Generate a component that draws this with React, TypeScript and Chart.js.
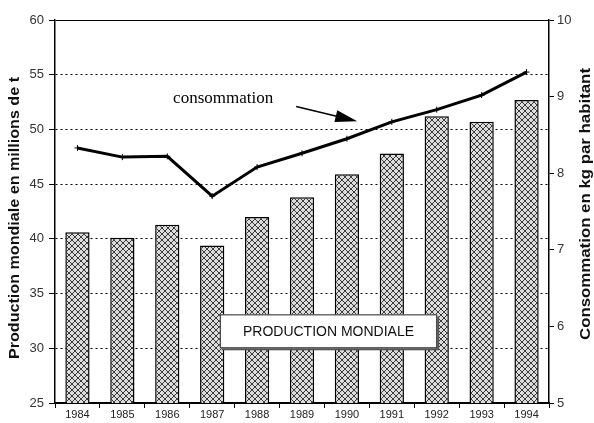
import React, { useEffect, useRef } from "react";
import { Chart, registerables } from "chart.js";

Chart.register(...registerables);

const years = ["1984", "1985", "1986", "1987", "1988", "1989", "1990", "1991", "1992", "1993", "1994"];
const production = [40.6, 40.1, 41.3, 39.4, 42.0, 43.8, 45.9, 47.8, 51.2, 50.7, 52.7];
const consommation = [8.33, 8.21, 8.22, 7.7, 8.08, 8.26, 8.45, 8.67, 8.83, 9.02, 9.32];
const leftTitle = "Production mondiale en millions de t";
const rightTitle = "Consommation en kg par habitant";
const lineLabel = "consommation";
const barLabel = "PRODUCTION MONDIALE";

function makePattern(): CanvasPattern | string {
  const c = document.createElement("canvas");
  c.width = 6;
  c.height = 6;
  const g = c.getContext("2d");
  if (!g) return "#ccc";
  g.fillStyle = "#dcdcdc";
  g.fillRect(0, 0, 6, 6);
  g.strokeStyle = "#3a3a3a";
  g.lineWidth = 1;
  g.beginPath();
  g.moveTo(0, 0);
  g.lineTo(6, 6);
  g.moveTo(6, 0);
  g.lineTo(0, 6);
  g.stroke();
  const p = g.createPattern(c, "repeat");
  return p || "#ccc";
}

function drawVerticalTitle(ctx: CanvasRenderingContext2D, text: string, cx: number, cy: number, target: number) {
  ctx.save();
  ctx.translate(cx, cy);
  ctx.rotate(-Math.PI / 2);
  const w = ctx.measureText(text).width;
  ctx.scale(target / w, 1);
  ctx.textAlign = "center";
  ctx.textBaseline = "middle";
  ctx.fillText(text, 0, 0);
  ctx.restore();
}

const annotations = {
  id: "annotations",
  afterDatasetsDraw(chart: any) {
    const { ctx, scales } = chart;
    const x = scales.x;
    const y = scales.y;
    ctx.save();
    // consommation label
    ctx.fillStyle = "#000";
    ctx.font = "17px 'Liberation Serif', 'Times New Roman', serif";
    ctx.textBaseline = "middle";
    ctx.textAlign = "left";
    ctx.fillText(lineLabel, x.getPixelForValue(2.13), y.getPixelForValue(52.8));
    // arrow
    const x1 = x.getPixelForValue(4.87), y1 = y.getPixelForValue(52.1);
    const x2 = x.getPixelForValue(6.23), y2 = y.getPixelForValue(50.75);
    const ang = Math.atan2(y2 - y1, x2 - x1);
    ctx.strokeStyle = "#000";
    ctx.lineWidth = 1.5;
    ctx.beginPath();
    ctx.moveTo(x1, y1);
    ctx.lineTo(x2 - 18 * Math.cos(ang), y2 - 18 * Math.sin(ang));
    ctx.stroke();
    ctx.beginPath();
    ctx.moveTo(x2, y2);
    ctx.lineTo(x2 - 22 * Math.cos(ang) + 6 * Math.sin(ang), y2 - 22 * Math.sin(ang) - 6 * Math.cos(ang));
    ctx.lineTo(x2 - 22 * Math.cos(ang) - 6 * Math.sin(ang), y2 - 22 * Math.sin(ang) + 6 * Math.cos(ang));
    ctx.closePath();
    ctx.fillStyle = "#000";
    ctx.fill();
    // production box
    const bl = x.getPixelForValue(3.17), br = x.getPixelForValue(8.01);
    const bt = y.getPixelForValue(33.1), bb = y.getPixelForValue(30.0);
    ctx.fillStyle = "#555";
    ctx.fillRect(bl + 2, bt + 2, br - bl, bb - bt);
    ctx.fillStyle = "#fff";
    ctx.fillRect(bl, bt, br - bl, bb - bt);
    ctx.strokeStyle = "#222";
    ctx.lineWidth = 1;
    ctx.strokeRect(bl + 0.5, bt + 0.5, br - bl - 1, bb - bt - 1);
    ctx.fillStyle = "#111";
    ctx.font = "14px 'Liberation Sans', Arial, sans-serif";
    ctx.textAlign = "center";
    ctx.fillText(barLabel, (bl + br) / 2, (bt + bb) / 2 + 1);
    // axis titles
    ctx.font = "bold 14px 'Liberation Sans', Arial, sans-serif";
    ctx.fillStyle = "#111";
    drawVerticalTitle(ctx, leftTitle, 15, 218, 282);
    drawVerticalTitle(ctx, rightTitle, 586, 204, 272);
    ctx.restore();
  },
};

export default function App() {
  const ref = useRef<HTMLCanvasElement | null>(null);
  useEffect(() => {
    document.body.style.margin = "0";
    if (!ref.current) return;
    const tickFont = { family: "'Liberation Sans', Arial, sans-serif", size: 13 };
    const chart = new Chart(ref.current, {
      type: "bar",
      data: {
        labels: years,
        datasets: [
          {
            type: "line",
            label: "consommation",
            data: consommation,
            yAxisID: "y2",
            borderColor: "#000",
            borderWidth: 3,
            pointStyle: "cross",
            pointRadius: 3,
            pointBorderWidth: 1,
            pointBorderColor: "#000",
            tension: 0,
            order: 0,
          } as any,
          {
            type: "bar",
            label: "production",
            data: production,
            yAxisID: "y",
            backgroundColor: makePattern() as any,
            borderColor: "#000",
            borderWidth: 1.5,
            categoryPercentage: 1,
            barPercentage: 0.54,
            order: 1,
          },
        ],
      },
      options: {
        animation: false,
        responsive: false,
        maintainAspectRatio: false,
        layout: { padding: { top: 20 } },
        plugins: { legend: { display: false }, tooltip: { enabled: false } },
        scales: {
          x: {
            grid: { display: true, drawOnChartArea: false, tickLength: 5, color: "#000", tickColor: "#000" },
            border: { color: "#000", width: 1.5 },
            ticks: { font: { ...tickFont, size: 11 }, color: "#222", padding: 0, maxRotation: 0 },
            afterFit: (s: any) => { s.height = 20; },
          },
          y: {
            position: "left",
            min: 25,
            max: 60,
            ticks: { stepSize: 5, font: tickFont, color: "#333", padding: 5 },
            grid: {
              color: "#000",
              lineWidth: 1,
              tickLength: 6,
              tickColor: "#000",
              tickBorderDash: [],
            },
            border: {
              color: "#000",
              width: 1.5,
              dash: (c: any) => (c.tick && (c.tick.value === 60 || c.tick.value === 25) ? [] : [2, 3]),
            },
            afterFit: (s: any) => { s.width = 55; },
          },
          y2: {
            position: "right",
            min: 5,
            max: 10,
            ticks: { stepSize: 1, font: tickFont, color: "#333", padding: 3 },
            grid: { drawOnChartArea: false, tickLength: 5, color: "#000", tickColor: "#000" },
            border: { color: "#000", width: 1.5 },
            afterFit: (s: any) => { s.width = 45; },
          },
        },
      },
      plugins: [annotations],
    });
    return () => chart.destroy();
  }, []);
  return (
    <div style={{ width: 594, height: 423, background: "#fff" }}>
      <canvas ref={ref} width={594} height={423} style={{ display: "block" }} />
    </div>
  );
}
